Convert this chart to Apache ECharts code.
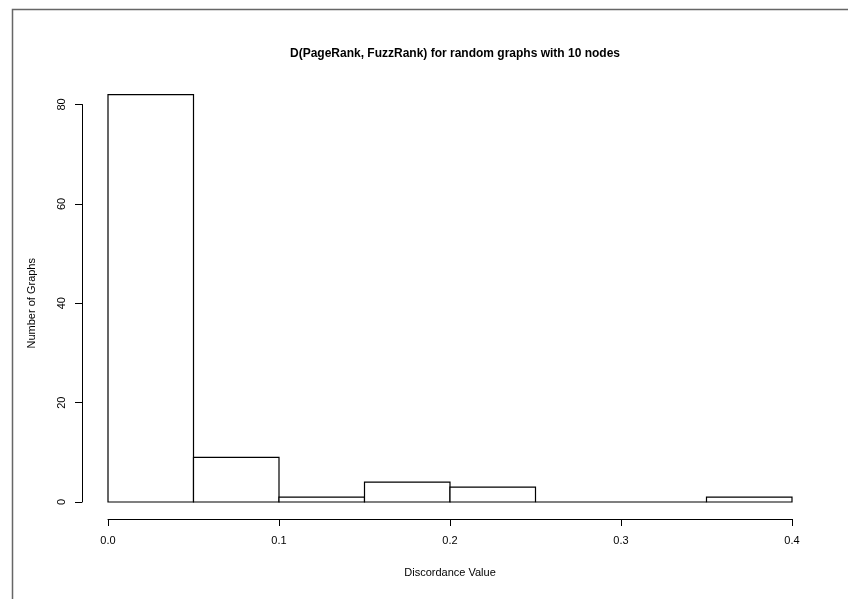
<!DOCTYPE html>
<html>
<head>
<meta charset="utf-8">
<script src="https://cdn.jsdelivr.net/npm/echarts@6/dist/echarts.min.js"></script>
<style>
html,body{margin:0;padding:0;background:#fff;}
#chart{width:848px;height:599px;}
</style>
</head>
<body>
<div id="chart"></div>
<script>
// histogram bins (left edge, right edge) and counts
var binStarts = [0, 0.05, 0.10, 0.15, 0.20, 0.25, 0.30, 0.35];
var binEnds = [0.05, 0.10, 0.15, 0.20, 0.25, 0.30, 0.35, 0.40];
var counts = [82, 9, 1, 4, 3, 0, 0, 1];
var xTicks = [0, 0.1, 0.2, 0.3, 0.4];
var yTicks = [0, 20, 40, 60, 80];

var font = 'Liberation Sans, Arial, sans-serif';
var chart = echarts.init(document.getElementById('chart'));

var bins = binStarts.map(function(s, i){ return [s, binEnds[i], counts[i]]; });

chart.setOption({
    animation:false,
    backgroundColor:'#fff',
    title:{
        text:'D(PageRank, FuzzRank) for random graphs with 10 nodes',
        left:450,
        top:43,
        textAlign:'center',
        textStyle:{fontFamily:font,fontSize:12,fontWeight:'bold',color:'#000'}
    },
    graphic:[{
        type:'rect',
        shape:{x:12.5,y:9.5,width:900,height:700},
        style:{fill:null,stroke:'#666',lineWidth:1.5},
        silent:true
    }],
    grid:{left:108,right:56,top:104.5,bottom:97,outerBoundsMode:'none'},
    xAxis:{
        type:'value',
        min:xTicks[0],
        max:xTicks[xTicks.length-1],
        interval:0.1,
        offset:17,
        name:'Discordance Value',
        nameLocation:'middle',
        nameGap:48,
        nameTextStyle:{fontFamily:font,fontSize:11,color:'#000'},
        splitLine:{show:false},
        axisLine:{onZero:false,lineStyle:{color:'#000',width:1}},
        axisTick:{length:7,lineStyle:{color:'#000'}},
        axisLabel:{fontFamily:font,fontSize:11,color:'#000',margin:16,
            formatter:function(v){return v.toFixed(1);}}
    },
    yAxis:{
        type:'value',
        min:yTicks[0],
        max:yTicks[yTicks.length-1],
        interval:20,
        offset:26,
        name:'Number of Graphs',
        nameLocation:'middle',
        nameGap:45,
        nameTextStyle:{fontFamily:font,fontSize:11,color:'#000'},
        splitLine:{show:false},
        axisLine:{show:true,onZero:false,lineStyle:{color:'#000',width:1}},
        axisTick:{show:true,length:7,lineStyle:{color:'#000'}},
        axisLabel:{fontFamily:font,fontSize:11,color:'#000',rotate:90,margin:15}
    },
    series:[{
        type:'custom',
        clip:false,
        data:bins,
        renderItem:function(params, api){
            var p0 = api.coord([api.value(0), 0]);
            var p1 = api.coord([api.value(1), api.value(2)]);
            return {
                type:'rect',
                shape:{x:p0[0], y:p1[1], width:p1[0]-p0[0], height:p0[1]-p1[1]},
                style:{fill:'#fff', stroke:'#000', lineWidth:1.2}
            };
        },
        encode:{x:[0,1], y:2}
    }]
});
</script>
</body>
</html>
